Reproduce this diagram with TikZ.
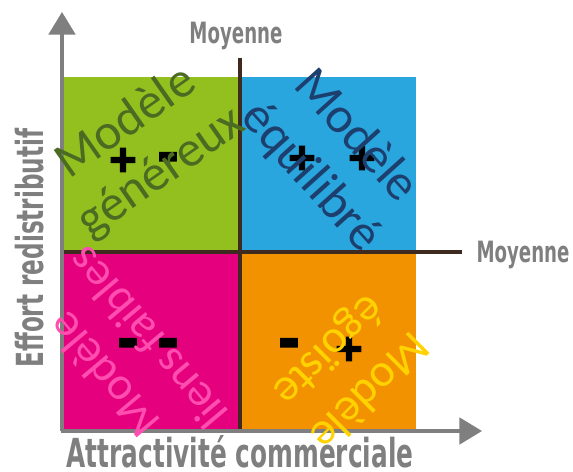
\documentclass[tikz,border=0pt]{standalone}
\usepackage{fontspec}
\setmainfont{Carlito}
\newfontfamily\axisfont[FakeStretch=0.62]{DejaVu Sans}
\newfontfamily\signfont[FakeBold=6]{DejaVu Sans}
\usepackage{xcolor}
\usetikzlibrary{arrows.meta}

\definecolor{quadgreen}{HTML}{93C01F}
\definecolor{quadblue}{HTML}{2AA6DF}
\definecolor{quadpink}{HTML}{E5007D}
\definecolor{quadorange}{HTML}{F39200}
\definecolor{axisgray}{HTML}{7F7F7F}
\definecolor{midbrown}{HTML}{3E2A1E}
\definecolor{txtgreen}{HTML}{4B6B22}
\definecolor{txtblue}{HTML}{1C3F6E}
\definecolor{txtpink}{HTML}{FF4DB0}
\definecolor{txtyellow}{HTML}{FFD200}

\begin{document}
\begin{tikzpicture}[x=0.75pt, y=0.75pt,
  axis/.style={axisgray, line width=2.3pt, -{Triangle[length=17pt, width=20pt]}},
  midline/.style={midbrown, line width=3pt},
  axislabel/.style={text=axisgray, font=\axisfont\bfseries\fontsize{30}{32}\selectfont},
  midlabel/.style={text=axisgray, font=\axisfont\bfseries\fontsize{22}{24}\selectfont},
  quadtext/.style={align=center, font=\fontsize{38}{46}\selectfont},
  plussign/.style={inner sep=0pt, font=\signfont\bfseries\fontsize{27}{27}\selectfont},
  minussign/.style={inner sep=0pt, font=\signfont\bfseries\fontsize{36}{36}\selectfont}]
  \useasboundingbox (0,0) rectangle (573,471);

  % Quadrants
  \fill[quadgreen] (62,220) rectangle (240,394);
  \fill[quadblue] (240,220) rectangle (416,394);
  \fill[quadpink] (62,40) rectangle (240,220);
  \fill[quadorange] (240,40) rectangle (416,220);

  % Medians
  \coordinate (vtop) at (240,413);
  \coordinate (vbot) at (240,41);
  \coordinate (hleft) at (62,219);
  \coordinate (hright) at (462,219);
  \draw[midline] (vbot) -- (vtop);
  \draw[midline] (hleft) -- (hright);

  % Axes
  \coordinate (origin) at (62,40);
  \coordinate (ytip) at (62,459);
  \coordinate (xtip) at (482,40);
  \draw[axis] (origin) -- (ytip);
  \draw[axis] ([xshift=-1.1pt]origin) -- (xtip);

  % Axis labels
  \node[axislabel, anchor=base, inner sep=0pt] (xlabel) at (240,4) {Attractivité commerciale};
  \node[axislabel, rotate=90, font=\axisfont\bfseries\fontsize{28}{30}\selectfont] (ylabel) at (30,223) {Effort redistributif};
  \node[midlabel] (moytop) at (236,435) {Moyenne};
  \node[midlabel] (moyright) at (523,216) {Moyenne};

  % Signs
  \node[plussign] (gplus) at (123,311) {+};
  \node[minussign] (gminus) at (168,309) {-};
  \node[plussign] (bplusa) at (302,313) {+};
  \node[plussign] (bplusb) at (362,313) {+};
  \node[minussign] (pminusa) at (128,123) {-};
  \node[minussign] (pminusb) at (168,123) {-};
  \node[minussign] (ominus) at (289,123) {-};
  \node[plussign] (oplus) at (349,122) {+};

  % Model names
  \node[quadtext, text=txtgreen, rotate=35] (genereux) at (144,323) {Modèle\\généreux};
  \node[quadtext, text=txtblue, rotate=-48] (equilibre) at (333,314) {Modèle\\équilibré};
  \node[quadtext, text=txtpink, rotate=130, font=\fontsize{35}{43}\selectfont] (faibles) at (125,114) {Modèle\\liens faibles};
  \node[quadtext, text=txtyellow, rotate=-135, font=\fontsize{35}{43}\selectfont] (egoiste) at (348,101) {Modèle\\égoïste};
\end{tikzpicture}
\end{document}
